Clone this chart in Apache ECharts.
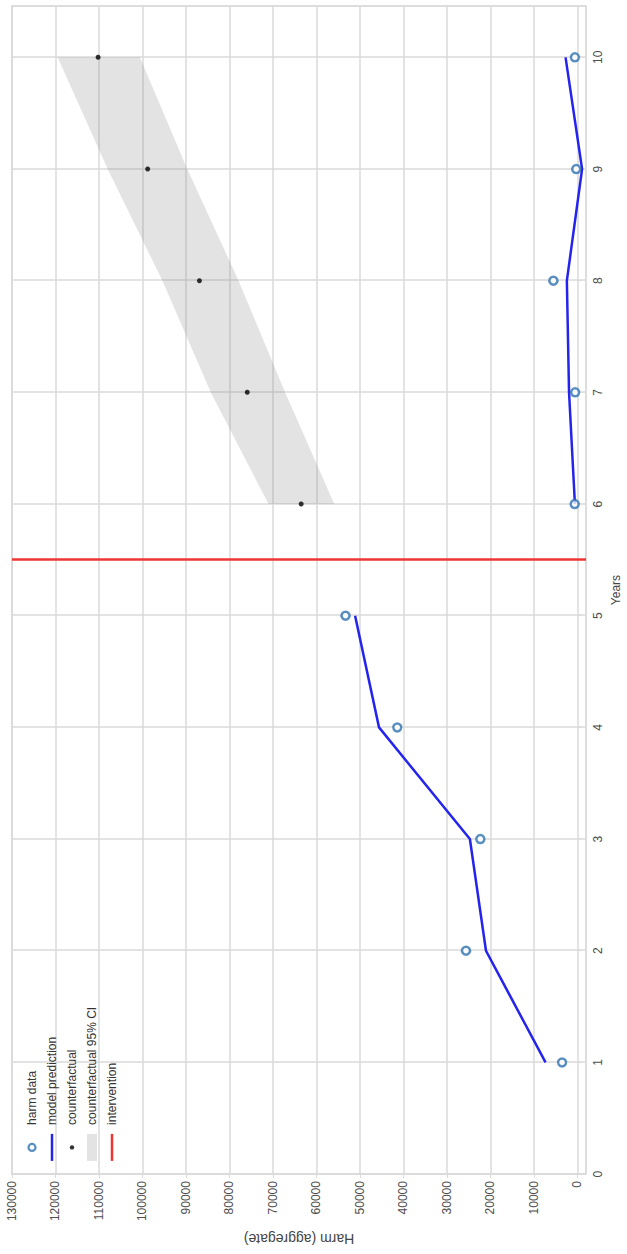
<!DOCTYPE html>
<html>
<head>
<meta charset="utf-8">
<script src="https://cdn.jsdelivr.net/npm/echarts@6/dist/echarts.min.js"></script>
<style>
  html, body { margin: 0; padding: 0; background: #fff; width: 627px; height: 1254px; overflow: hidden; }
  /* the plot is laid out landscape and turned a quarter turn counter-clockwise */
  #chart {
    position: absolute; left: 0; top: 0;
    width: 1254px; height: 627px;
    transform-origin: 0 0;
    transform: translate(0, 1254px) rotate(-90deg);
  }
</style>
</head>
<body>
<div id="chart"></div>
<script>
// yearly harm observations and the fitted model
const years = [1, 2, 3, 4, 5, 6, 7, 8, 9, 10];
const harmData = [3500, 25600, 22300, 41400, 53300, 600, 500, 5500, 250, 550];
const modelPrediction = [7300, 21000, 24700, 45600, 51100, 550, 1900, 2400, -1100, 2700];

// counterfactual projection after the intervention, with its 95% interval
const cfYears = [6, 7, 8, 9, 10];
const counterfactual = [63500, 75900, 86900, 98800, 110200];
const ciLower = [55900, 67200, 77900, 89700, 100600];
const ciUpper = [71000, 84300, 95400, 108000, 119500];

const interventionYear = 5.5;

// tick labels
const yearTicks = [0, 1, 2, 3, 4, 5, 6, 7, 8, 9, 10];
const harmTicks = [0, 10000, 20000, 30000, 40000, 50000, 60000, 70000, 80000, 90000, 100000, 110000, 120000, 130000];

const FONT = 'Liberation Sans, Arial, sans-serif';
const GRID = '#dadada';
const BLUE_PT = '#2f72b0';
const BLUE_LINE = '#2424ee';
const RED = '#f03434';

const pairs = (xs, ys) => xs.map((x, i) => [x, ys[i]]);
const before = pairs(years, modelPrediction).filter(p => p[0] < interventionYear);
const after = pairs(years, modelPrediction).filter(p => p[0] > interventionYear);

// legend glyphs: a thin bar, and small round marks padded out to the full icon width
const barIcon = 'path://M0,0H27V2.5H0Z';
const ringIcon = 'path://M0,5L0,5M27,5L27,5M10,5A3.5,3.5,0,1,0,17,5A3.5,3.5,0,1,0,10,5Z';
const dotIcon = 'path://M0,5L0,5M27,5L27,5M11.3,5A2.2,2.2,0,1,0,15.7,5A2.2,2.2,0,1,0,11.3,5Z';

const chart = echarts.init(document.getElementById('chart'), null, { renderer: 'svg' });

chart.setOption({
  backgroundColor: '#ffffff',
  animation: false,
  textStyle: { fontFamily: FONT },
  grid: {
    left: 79, right: 6, top: 12, bottom: 38,
    show: true, borderColor: '#d2d2d2', borderWidth: 1.5, backgroundColor: 'transparent'
  },
  legend: {
    orient: 'vertical',
    left: 92, top: 26,
    padding: 0,
    itemWidth: 27, itemHeight: 10, itemGap: 8,
    symbolKeepAspect: true,
    textStyle: { fontSize: 12, color: '#333', fontFamily: FONT, padding: [0, 0, 0, 4] },
    data: [
      { name: 'harm data', icon: ringIcon, itemStyle: { color: '#ffffff', borderColor: BLUE_PT, borderWidth: 2.2 } },
      { name: 'model prediction', icon: barIcon, itemStyle: { color: BLUE_LINE, borderWidth: 0 } },
      { name: 'counterfactual', icon: dotIcon, itemStyle: { color: '#000', borderWidth: 0 } },
      { name: 'counterfactual 95% CI', icon: 'rect', itemStyle: { color: '#e3e3e3', borderWidth: 0 } },
      { name: 'intervention', icon: barIcon, itemStyle: { color: RED, borderWidth: 0 } }
    ]
  },
  xAxis: {
    type: 'value',
    min: 0, max: 10.46,
    name: 'Years',
    nameLocation: 'middle',
    nameGap: 24,
    nameTextStyle: { fontSize: 12, color: '#444', fontFamily: FONT },
    axisLine: { show: false },
    axisTick: { show: true, length: 4, lineStyle: { color: GRID }, customValues: yearTicks },
    axisLabel: { customValues: yearTicks, margin: 6, fontSize: 12, color: '#4d4d4d', fontFamily: FONT },
    splitLine: { show: true, lineStyle: { color: GRID, width: 1.5 } }
  },
  yAxis: {
    type: 'value',
    min: -2000, max: 130000,
    name: 'Harm (aggregate)',
    nameLocation: 'middle',
    nameGap: 45,
    nameRotate: 90,
    nameTextStyle: { fontSize: 14, color: '#444', fontFamily: FONT },
    axisLine: { show: false },
    axisTick: { show: true, length: 4, lineStyle: { color: GRID }, customValues: harmTicks },
    axisLabel: { customValues: harmTicks, margin: 7, fontSize: 12, color: '#4d4d4d', fontFamily: FONT,
                 formatter: v => String(v) },
    splitLine: { show: true, lineStyle: { color: GRID, width: 1.5 } }
  },
  series: [
    {
      name: 'counterfactual 95% CI',
      type: 'custom',
      z: 1,
      itemStyle: { color: '#e3e3e3' },
      data: cfYears.map((y, i) => [y, ciLower[i], ciUpper[i]]),
      encode: { x: 0, y: [1, 2] },
      renderItem: function (params, api) {
        if (params.dataIndex !== 0) return null;
        const pts = [];
        cfYears.forEach((y, i) => pts.push(api.coord([y, ciUpper[i]])));
        for (let i = cfYears.length - 1; i >= 0; i--) pts.push(api.coord([cfYears[i], ciLower[i]]));
        return { type: 'polygon', shape: { points: pts }, style: { fill: 'rgba(128,128,128,0.22)' } };
      }
    },
    {
      name: 'intervention',
      type: 'line',
      data: [],
      color: RED,
      markLine: {
        silent: true,
        symbol: ['none', 'none'],
        label: { show: false },
        lineStyle: { color: RED, width: 2.5, type: 'solid' },
        data: [{ xAxis: interventionYear }]
      }
    },
    {
      name: 'model prediction',
      type: 'line',
      data: before,
      showSymbol: false,
      symbol: 'none',
      color: BLUE_LINE,
      lineStyle: { color: BLUE_LINE, width: 2.5 },
      z: 3
    },
    {
      name: 'model prediction',
      type: 'line',
      data: after,
      showSymbol: false,
      symbol: 'none',
      color: BLUE_LINE,
      lineStyle: { color: BLUE_LINE, width: 2.5 },
      z: 3
    },
    {
      name: 'counterfactual',
      type: 'scatter',
      data: pairs(cfYears, counterfactual),
      symbol: 'circle',
      symbolSize: 5,
      itemStyle: { color: '#000' },
      z: 4
    },
    {
      name: 'harm data',
      type: 'scatter',
      data: pairs(years, harmData),
      symbol: 'circle',
      symbolSize: 8,
      itemStyle: { color: '#ffffff', borderColor: BLUE_PT, borderWidth: 2.5 },
      z: 5
    }
  ]
});
</script>
</body>
</html>
